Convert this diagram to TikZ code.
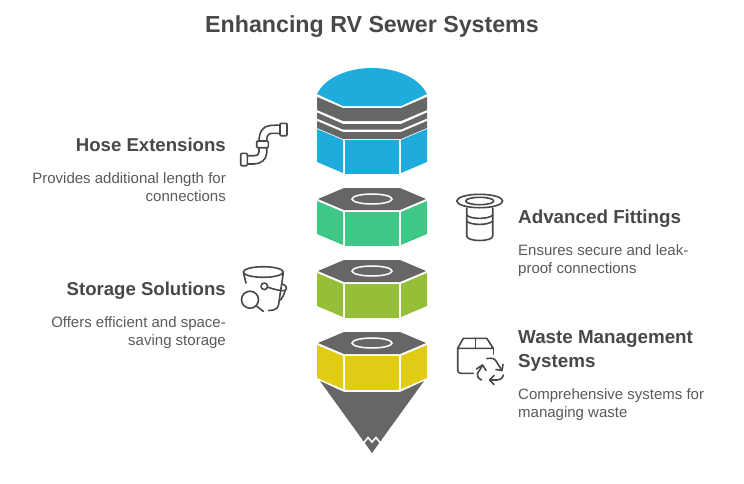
\documentclass[tikz,border=0pt]{standalone}
\usepackage{fontspec}
\setmainfont{Liberation Sans}
\definecolor{capgray}{HTML}{666666}
\definecolor{hoseblue}{HTML}{1EACDD}
\definecolor{fitgreen}{HTML}{3EC787}
\definecolor{storeolive}{HTML}{95BF38}
\definecolor{wasteyellow}{HTML}{E0CC14}
\definecolor{titleink}{HTML}{484848}
\definecolor{bodyink}{HTML}{5A5A5A}
\tikzset{
  titletext/.style={font=\bfseries\fontsize{23.2}{28}\selectfont,text=titleink,inner sep=0pt},
  headleft/.style={font=\bfseries\fontsize{18.6}{23.5}\selectfont,text=titleink,inner sep=0pt,anchor=north east,align=right},
  headright/.style={font=\bfseries\fontsize{18.8}{23.5}\selectfont,text=titleink,inner sep=0pt,anchor=north west,align=left},
  bodyleft/.style={font=\fontsize{15}{18.5}\selectfont,text=bodyink,inner sep=0pt,anchor=north east,align=right},
  bodyright/.style={font=\fontsize{15}{18.5}\selectfont,text=bodyink,inner sep=0pt,anchor=north west,align=left},
  iconline/.style={draw=titleink,line width=1.6pt,line cap=round,line join=round},
  holering/.style={draw=white,line width=1.5pt},
}
% One hexagonal nut: gray top with a ring, three coloured side faces.
% #1 = vertical offset, #2 = face colour
\newcommand{\nutsegment}[2]{
  \begin{scope}[yshift=-#1pt]
    \fill[capgray] (344,188) -- (400,188) -- (426,199) -- (400,210) -- (344,210) -- (318,199) -- cycle;
    \draw[holering] (372,199) ellipse [x radius=20,y radius=5];
    \fill[#2] (317,201) -- (343,212) -- (343,245) -- (317,234) -- cycle;
    \fill[#2] (345,212) rectangle (399,246);
    \fill[#2] (401,212) -- (427,201) -- (427,234) -- (401,245) -- cycle;
  \end{scope}
}
\begin{document}
\begin{tikzpicture}[x=1pt,y=-1pt]
\useasboundingbox (0,0) rectangle (744,483);
\fill[white] (0,0) rectangle (744,483);

\node[titletext] (title) at (372,26.5) {Enhancing RV Sewer Systems};

% Top cap with its three gray bands
\fill[hoseblue] (317,94) .. controls (325,78) and (347,68) .. (372,68)
  .. controls (397,68) and (419,78) .. (427,94) -- (401,106) -- (343,106) -- cycle;
\fill[capgray] (317,97) -- (343,108) -- (401,108) -- (427,97) -- (427,110) -- (401,121) -- (343,121) -- (317,110) -- cycle;
\fill[capgray] (317,112.5) -- (343,124) -- (401,124) -- (427,112.5) -- (427,118.5) -- (401,129.5) -- (343,129.5) -- (317,118.5) -- cycle;
\fill[capgray] (317,121) -- (343,132) -- (401,132) -- (427,121) -- (427,128) -- (401,139) -- (343,139) -- (317,128) -- cycle;
\fill[hoseblue] (317,129) -- (343,140) -- (343,173) -- (317,162) -- cycle;
\fill[hoseblue] (345,140) rectangle (399,174);
\fill[hoseblue] (401,140) -- (427,129) -- (427,162) -- (401,173) -- cycle;

\nutsegment{0}{fitgreen}
\nutsegment{72}{storeolive}
\nutsegment{144}{wasteyellow}

% Cone below the last nut, with its notched tip
\fill[capgray] (320,381) -- (344,392) -- (400,392) -- (424,381) -- (372,453) -- cycle;
\draw[white,line width=1.5pt,line join=miter] (362,442) -- (364.5,442) -- (368,437.5) -- (372,442) -- (376,437.5) -- (379.5,442) -- (382,442);

% Pipe icon
\begin{scope}[iconline]
  \draw[rounded corners=1pt] (280,123.3) rectangle (287,135.7);
  \draw[rounded corners=1pt] (240.7,153.3) rectangle (247.3,165.7);
  \draw[rounded corners=1pt] (256.7,141) rectangle (268.3,147.7);
  \draw (280,125) -- (270,125.5) .. controls (263,126) and (259,132) .. (259,141);
  \draw (280,133.3) -- (272,133.3) .. controls (268,133.3) and (266.7,136) .. (266.7,141);
  \draw (266.7,147.7) -- (266.7,153) .. controls (266.7,160) and (260,164) .. (254,164) -- (247.3,164);
  \draw (259,147.7) -- (259,152) .. controls (259,155) and (257,155.7) .. (254,155.7) -- (247.3,155.7);
\end{scope}

% Flanged fitting icon
\begin{scope}[iconline]
  \draw (479.7,201) ellipse [x radius=23,y radius=6.7];
  \draw (479.7,201) ellipse [x radius=14,y radius=3.7];
  \draw (466.7,208) -- (466.7,236) .. controls (466.7,242) and (492.7,242) .. (492.7,236) -- (492.7,208);
  \draw (466.7,215) .. controls (470,219.5) and (489,219.5) .. (492.7,215);
  \draw (466.7,221) .. controls (470,225.5) and (489,225.5) .. (492.7,221);
\end{scope}

% Bucket and magnifier icon
\begin{scope}[iconline]
  \draw (263.3,272) ellipse [x radius=20,y radius=5.3];
  \draw (243.5,273) -- (246,283);
  \draw (283.3,273) -- (278.5,305) .. controls (278,309) and (274,310.5) .. (268.5,310.5);
  \draw (264.3,286.3) circle [radius=3.3];
  \draw (267.6,287) .. controls (275,290) and (282,291) .. (285,290.5)
    .. controls (288,289) and (286,285) .. (282.5,284);
  \draw (285,291) .. controls (284,295) and (282,298) .. (280.5,300);
  \draw (250,299.7) circle [radius=8.5];
  \draw (256,305.7) -- (263.3,311.3);
\end{scope}

% Box and recycling arrows icon
\begin{scope}[iconline]
  \draw (457.7,348.3) -- (463.3,338.3) -- (486.7,338.3) -- (493.3,348.3) -- cycle;
  \draw (475.3,338.3) -- (475.3,348.3);
  \draw (457.7,348.3) -- (457.7,370) .. controls (457.7,372.5) and (459,373.3) .. (461,373.3) -- (473.3,373.3);
  \draw (493.3,348.3) -- (493.3,354);
  \draw (487,358.5) .. controls (492,358) and (494,358) .. (496,361) -- (502,370.5);
  \draw (503,364.5) -- (502,370.5) -- (496,369.5);
  \draw (503.5,375) .. controls (502,379) and (500,380) .. (497,380) -- (490,380);
  \draw (494,375.5) -- (489.5,380) -- (494,384.5);
  \draw (481.5,380) .. controls (478,378) and (476.5,376) .. (477.5,373.5) -- (482.5,365.5);
  \draw (476.5,369) -- (482.5,365) -- (486,370.5);
\end{scope}

% Labels on the left
\node[headleft] (hose) at (226,138) {Hose Extensions};
\node[bodyleft] (hosebody) at (226,172) {Provides additional length for\\connections};
\node[headleft] (storage) at (226,282) {Storage Solutions};
\node[bodyleft] (storagebody) at (226,316) {Offers efficient and space-\\saving storage};

% Labels on the right
\node[headright] (fittings) at (518,210) {Advanced Fittings};
\node[bodyright] (fittingsbody) at (518,244) {Ensures secure and leak-\\proof connections};
\node[headright] (waste) at (518,330.5) {Waste Management\\Systems};
\node[bodyright] (wastebody) at (518,388) {Comprehensive systems for\\managing waste};
\end{tikzpicture}
\end{document}
